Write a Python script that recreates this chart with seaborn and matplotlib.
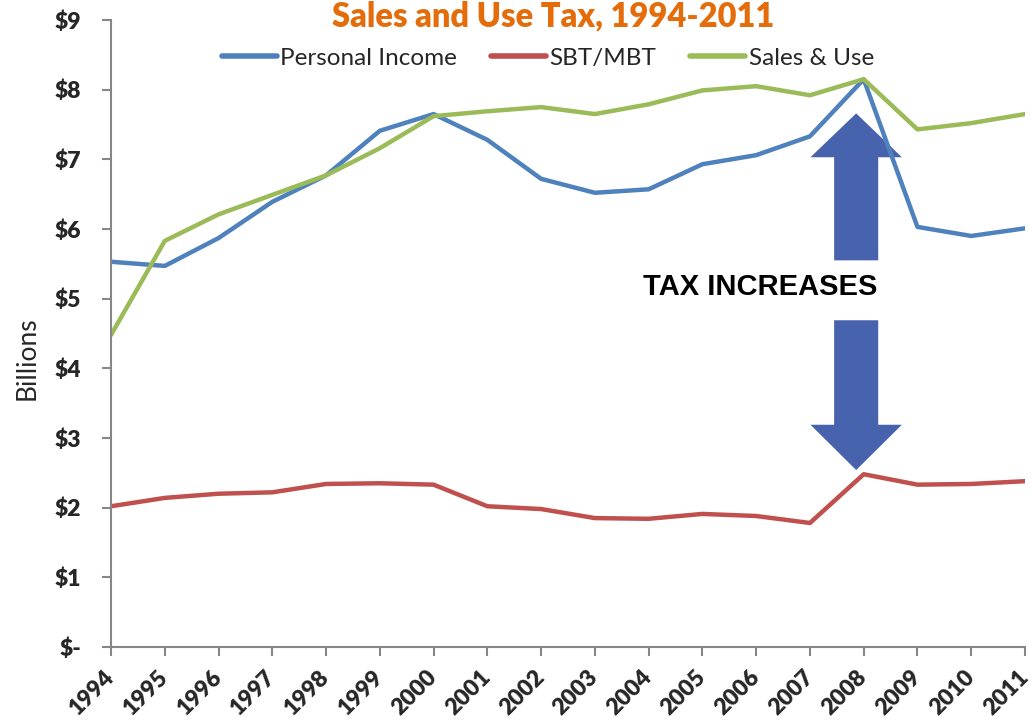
import matplotlib
matplotlib.use("Agg")
import matplotlib.pyplot as plt
import seaborn as sns
import pandas as pd
from matplotlib.patches import FancyArrow

years = list(range(1994, 2012))
personal_income = [5.53, 5.47, 5.87, 6.39, 6.77, 7.41, 7.65, 7.28, 6.72, 6.52,
                   6.57, 6.93, 7.06, 7.33, 8.15, 6.03, 5.90, 6.01]
sbt_mbt = [2.02, 2.14, 2.20, 2.22, 2.34, 2.35, 2.33, 2.02, 1.98, 1.85,
           1.84, 1.91, 1.88, 1.78, 2.48, 2.33, 2.34, 2.38]
sales_use = [4.48, 5.83, 6.21, 6.49, 6.77, 7.16, 7.62, 7.69, 7.75, 7.65,
             7.79, 7.99, 8.05, 7.92, 8.15, 7.43, 7.52, 7.65]
series_names = ["Personal Income", "SBT/MBT", "Sales & Use"]
y_ticks = list(range(0, 10))
y_labels = ["$-"] + [f"${v}" for v in range(1, 10)]

df = pd.concat([
    pd.DataFrame({"Year": years, "Value": vals, "Series": name})
    for name, vals in zip(series_names, [personal_income, sbt_mbt, sales_use])
])

sns.set_theme(style="white")
plt.rcParams["font.family"] = ["Lato", "DejaVu Sans"]

fig = plt.figure(figsize=(10.32, 7.28), dpi=100)
ax = fig.add_axes([0.1076, 0.1113, 0.8856, 0.8612])

palette = {"Personal Income": "#4f81bd", "SBT/MBT": "#c0504d", "Sales & Use": "#9bbb59"}
sns.lineplot(data=df, x="Year", y="Value", hue="Series", palette=palette,
             linewidth=3.2, ax=ax, legend=True)

ax.set_xlim(1994, 2011)
ax.set_ylim(0, 9)
ax.set_xticks(years)
ax.set_xticklabels([str(y) for y in years], rotation=45, ha="right", va="center",
                   rotation_mode="anchor", fontsize=16.5, fontweight="heavy")
ax.set_yticks(y_ticks)
ax.set_yticklabels(y_labels, fontsize=16.5, fontweight="heavy")
ax.set_xlabel("")
ax.set_ylabel("Billions", fontsize=19)
ax.yaxis.set_label_coords(-0.078, 0.46)

for side in ["top", "right"]:
    ax.spines[side].set_visible(False)
for side in ["left", "bottom"]:
    ax.spines[side].set_color("#868686")
    ax.spines[side].set_linewidth(1.5)
ax.tick_params(axis="both", which="major", direction="out", length=6.5, width=1.5,
               color="#868686", left=True, bottom=True)
ax.tick_params(axis="y", pad=15)
ax.tick_params(axis="x", pad=13)

leg = ax.legend(loc="center", bbox_to_anchor=(0.478, 0.939), ncol=3, frameon=False,
                fontsize=17.5, handlelength=2.25, columnspacing=1.4, handletextpad=0.15)
for line in leg.get_lines():
    line.set_linewidth(4)

fig.text(0.536, 0.9995, "Sales and Use Tax, 1994-2011", ha="center", va="top",
         fontsize=23.5, fontweight="heavy", color="#e46c0a")

# Arrows around the label
arrow_kw = dict(width=0.82, head_width=1.7, length_includes_head=True,
                color="#4863ae", linewidth=0)
ax.add_patch(FancyArrow(2007.86, 5.55, 0, 7.66 - 5.55, head_length=0.63, **arrow_kw))
ax.add_patch(FancyArrow(2007.86, 4.69, 0, 2.54 - 4.69, head_length=0.65, **arrow_kw))
ax.text(2006.07, 5.17, "TAX INCREASES", ha="center", va="center", fontsize=21,
        fontweight="bold", family=["Liberation Sans", "DejaVu Sans"], color="black")

fig.savefig("out.png", dpi=100, facecolor="white")
